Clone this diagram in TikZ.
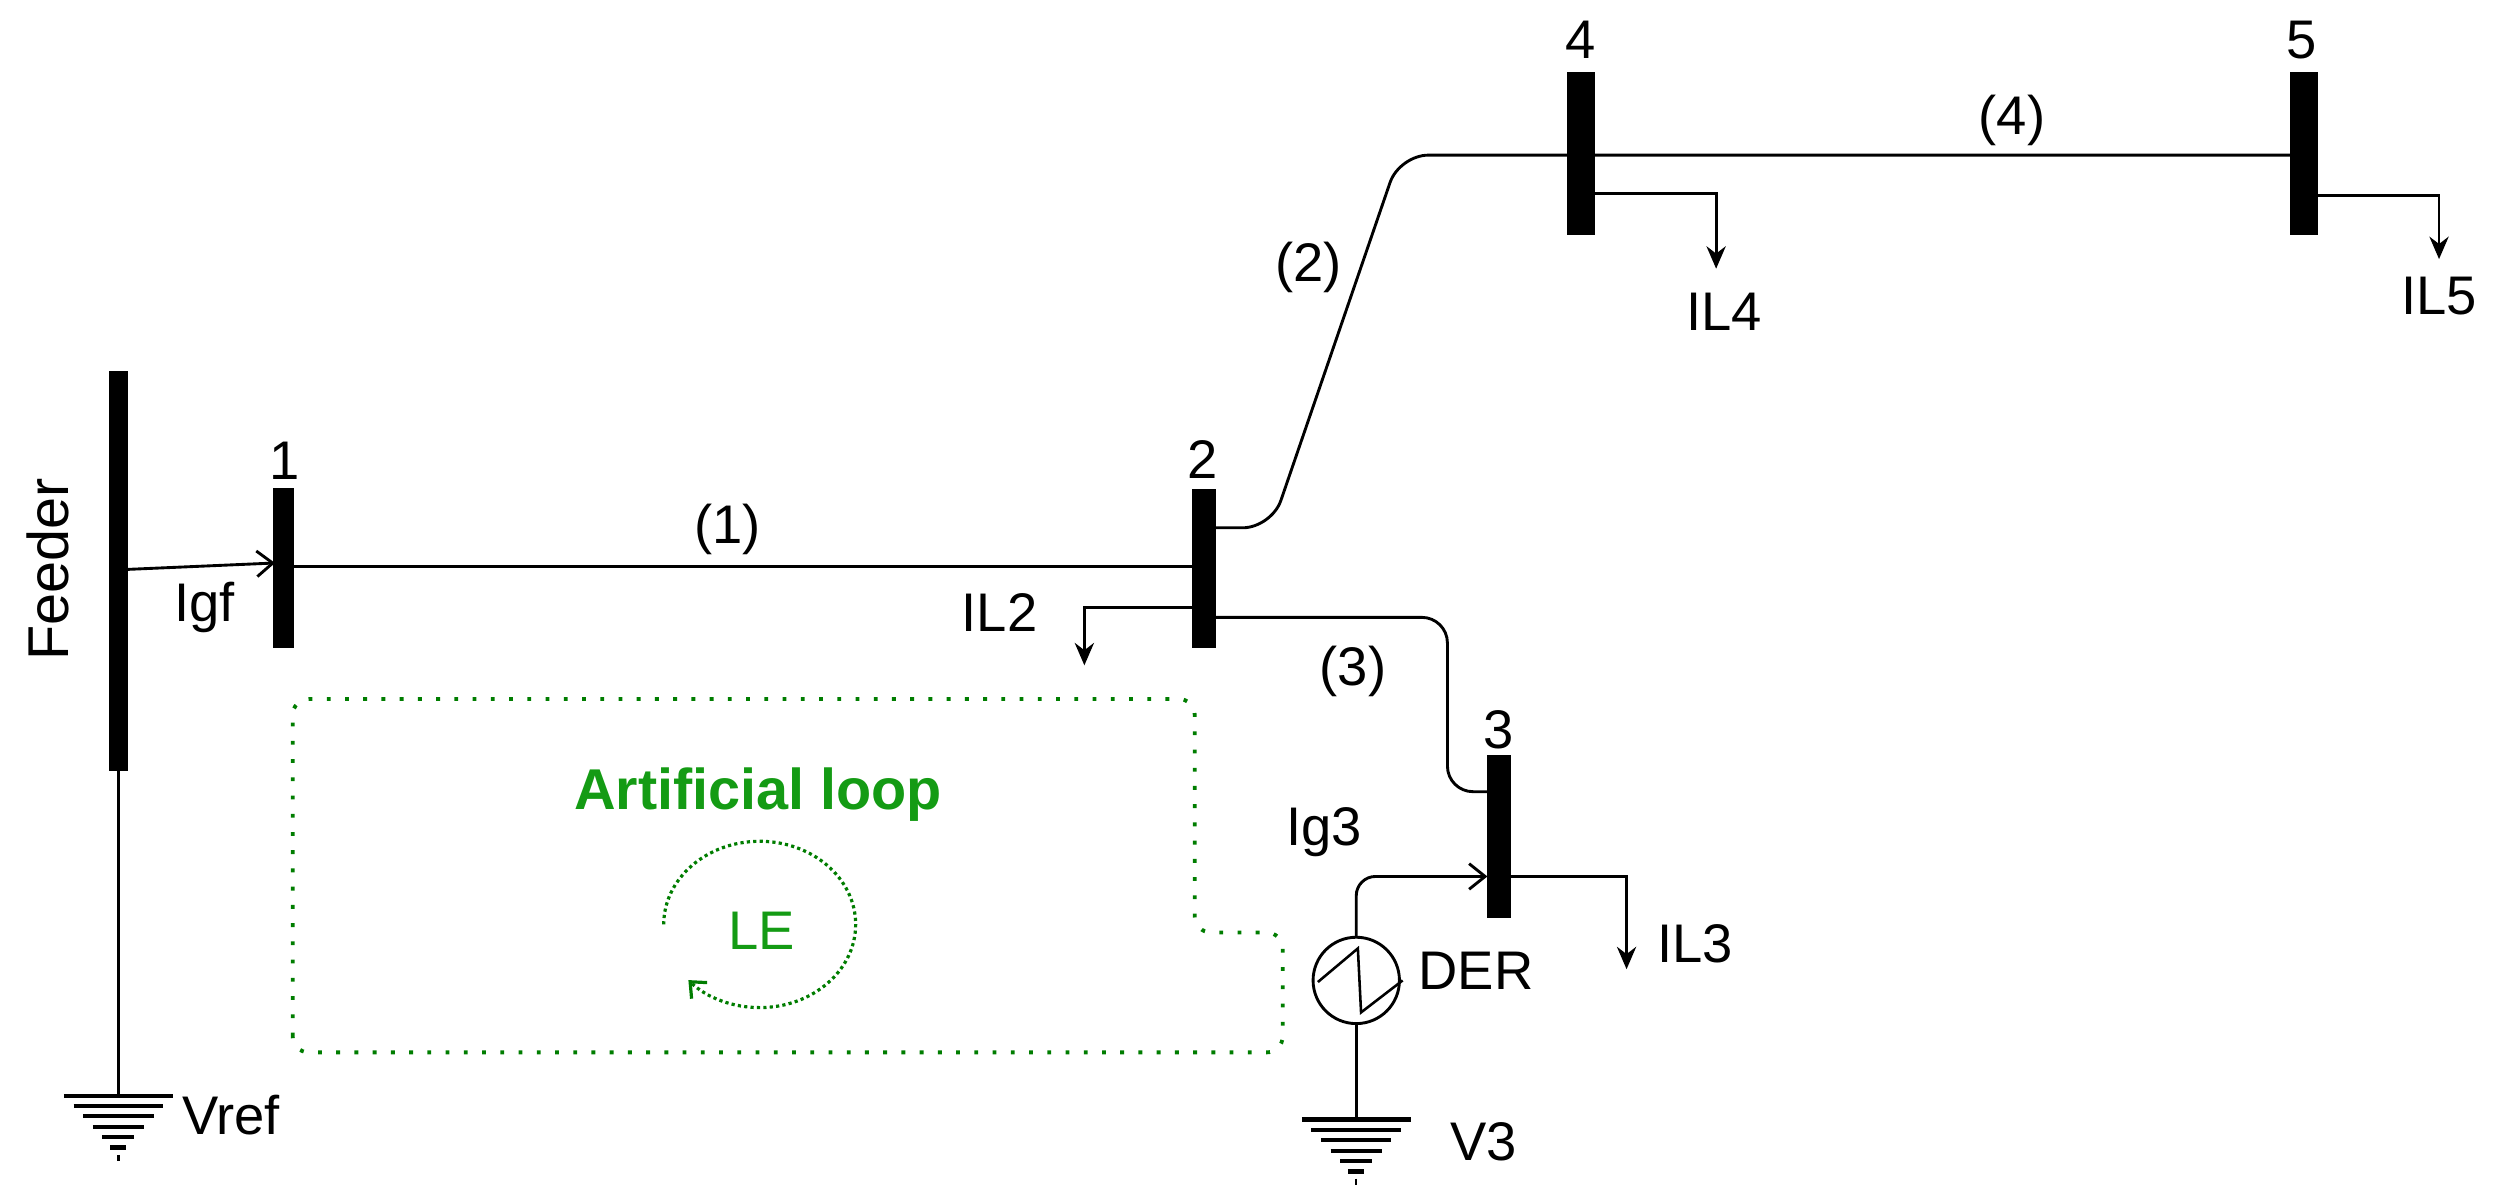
\documentclass[tikz,border=0pt]{standalone}
\usepackage{fontspec}
\setmainfont{Liberation Sans}
\usetikzlibrary{arrows.meta,calc}
\definecolor{lgreen}{RGB}{20,155,20}
\definecolor{dgreen}{RGB}{0,125,0}
\begin{document}
\begin{tikzpicture}[x=1pt,y=-1pt,line width=1.8pt,
  bus/.style={fill=black,draw=none},
  lbl/.style={font=\fontsize{34}{36}\selectfont,inner sep=1pt},
  load/.style={-{Stealth[length=14pt,width=12pt]}},
  inj/.style={-{Straight Barb[length=10pt,width=16pt,line width=1.8pt]}},
  loop/.style={dgreen,line width=2.4pt,dash pattern=on 2.4pt off 9pt},
  gnd/.pic={\draw[line width=2.6pt] (-34,0)--(34,0) (-28,6.5)--(28,6.5) (-22,13)--(22,13) (-16,19.5)--(16,19.5) (-10,26)--(10,26) (-5,32.5)--(5,32.5);
            \draw[line width=1.5pt] (0,37)--(0,41);}]
\useasboundingbox (0,0) rectangle (1560,750);
% buses
\fill[bus] (68,232) rectangle (80,482);
\fill[bus] (171,305) rectangle (184,405);
\fill[bus] (745,306) rectangle (760,405);
\fill[bus] (930,472) rectangle (945,574);
\fill[bus] (980,45) rectangle (997,147);
\fill[bus] (1432,45) rectangle (1449,147);
\coordinate (fd) at (74,482);
\node[lbl,rotate=90,font=\fontsize{36}{38}\selectfont] (feeder) at (30,356) {Feeder};
\node[lbl] (n1) at (178,288) {1};
\node[lbl] (n2) at (752,287) {2};
\node[lbl] (n3) at (937,456) {3};
\node[lbl] (n4) at (988,25) {4};
\node[lbl] (n5) at (1439,25) {5};
% feeder ground
\coordinate (g1) at (74,685);
\draw (fd) -- (g1);
\pic at (g1) {gnd};
\node[lbl,anchor=west] (vref) at (112,697) {Vref};
% Igf
\coordinate (ia) at (80,356);
\coordinate (ib) at (172,352);
\draw[inj] (ia) -- (ib);
\node[lbl] (igf) at (128,380) {Igf};
% line 1
\coordinate (l1a) at (184,354);
\coordinate (l1b) at (745,354);
\draw (l1a) -- (l1b);
\node[lbl] (t1) at (455,331) {(1)};
% line 2 and 4
\coordinate (l2a) at (760,330);
\coordinate (b5) at (1432,97);
\draw[rounded corners=18pt] (l2a) -- (795,330) -- (875,97) -- (b5);
\node[lbl] (t2) at (818,167) {(2)};
\node[lbl] (t4) at (1258,75) {(4)};
% loads
\coordinate (l4s) at (997,121);
\coordinate (l4e) at (1073,168);
\draw[load] (l4s) -- (1073,121) -- (l4e);
\node[lbl] (il4) at (1078,195) {IL4};
\coordinate (l5s) at (1449,122);
\coordinate (l5e) at (1525,162);
\draw[load] (l5s) -- (1525,122) -- (l5e);
\node[lbl] (il5) at (1525,185) {IL5};
\coordinate (l2s) at (745,380);
\coordinate (l2e) at (678,416);
\draw[load] (l2s) -- (678,380) -- (l2e);
\node[lbl] (il2) at (625,383) {IL2};
% line 3
\coordinate (l3a) at (760,386);
\coordinate (l3b) at (930,495);
\draw[rounded corners=16pt] (l3a) -- (905,386) -- (905,495) -- (l3b);
\node[lbl] (t3) at (846,420) {(3)};
% IL3
\coordinate (l3s) at (945,548);
\coordinate (l3e) at (1017,606);
\draw[load] (l3s) -- (1017,548) -- (l3e);
\node[lbl] (il3) at (1060,590) {IL3};
% DER
\node[circle,draw,minimum size=54pt,inner sep=0pt] (der) at (848,613) {};
\draw[line width=1.6pt] ($(der.center)+(-24,1)$) -- ++(25,-21) -- ++(2,40) -- ++(26,-20);
\node[lbl,anchor=west] (dert) at (885,607) {DER};
\coordinate (ig) at (930,548);
\draw[inj,rounded corners=12pt] (der.north) -- (848,548) -- (ig);
\node[lbl] (ig3) at (828,520) {Ig3};
\coordinate (g3) at (848,700);
\draw (der.south) -- (g3);
\pic at (g3) {gnd};
\node[lbl,anchor=west] (v3) at (905,714) {V3};
% artificial loop
\draw[loop,rounded corners=10pt] (183,658) -- (183,437) -- (747,437) -- (747,583) -- (802,583) -- (802,658) -- cycle;
\node[lbl,text=lgreen,font=\fontsize{36}{38}\selectfont\bfseries] (al) at (474,497) {Artificial loop};
\node[lbl,text=lgreen] (le) at (476,582) {LE};
\draw[dgreen,line width=2pt,dash pattern=on 2pt off 2pt,-{Straight Barb[length=8pt,width=14pt,line width=2pt]}]
  (415,578) arc[start angle=180,end angle=498,x radius=60,y radius=52];
\end{tikzpicture}
\end{document}
